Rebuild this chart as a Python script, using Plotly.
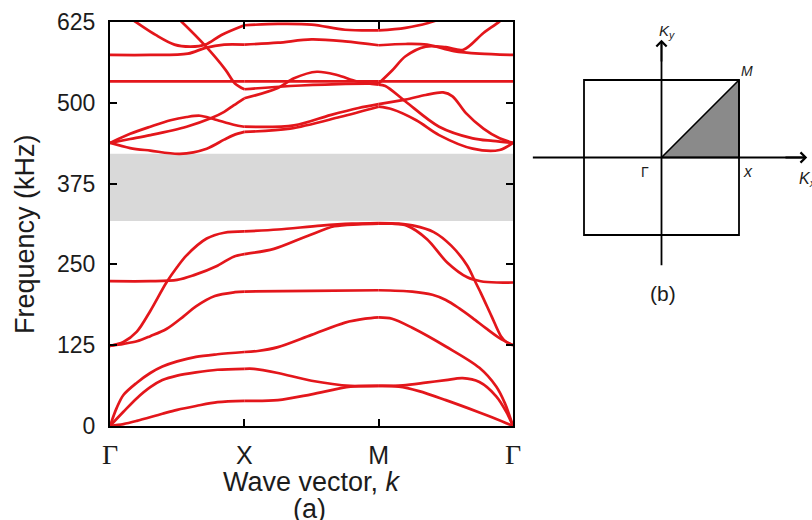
import plotly.graph_objects as go

W, H = 812, 520

# ---------------- data ----------------
# path coordinate: 0 = Γ, 1 = X, 2 = M, 3 = Γ ; frequency in kHz
HSP_POS = [0, 1, 2, 3]
HSP_LABELS = ["Γ", "X", "M", "Γ"]
FREQ_TICKS = [0, 125, 250, 375, 500, 625]
GAP_LOW, GAP_HIGH = 317, 421

band1_k = [0, 0.1, 0.2, 0.39, 0.5, 0.64, 0.8, 1.0, 1.25, 1.5, 1.79, 2.0, 2.15, 2.3, 2.5, 2.75, 2.875, 3.0]
band1_f = [0, 3, 8, 19, 25, 31, 37, 39, 40, 49, 61, 62, 61, 54, 40, 21, 11, 0]

band2_k = [0, 0.1, 0.2, 0.3, 0.39, 0.5, 0.64, 0.8, 1.0, 1.07, 1.25, 1.5, 1.79, 2.0, 2.18, 2.35, 2.5, 2.625, 2.75, 2.875, 2.95, 3.0]
band2_f = [0, 22, 43, 60, 71, 78, 83, 87, 88.5, 88.5, 82, 70, 62, 62, 63, 67, 71, 74, 68, 46, 22, 0]

band3_k = [0, 0.05, 0.1, 0.2, 0.3, 0.39, 0.5, 0.64, 0.8, 1.0, 1.1, 1.25, 1.5, 1.75, 1.9, 2.0, 2.1, 2.25, 2.5, 2.75, 2.875, 2.94, 3.0]
band3_f = [0, 28, 48, 67, 82, 92, 100, 107, 111, 114.5, 116, 122, 141, 160, 166, 168, 166, 152, 123, 90, 61, 35, 0]

band4_k = [0, 0.1, 0.2, 0.3, 0.42, 0.55, 0.64, 0.78, 0.93, 1.0, 1.5, 2.0, 2.25, 2.4, 2.5, 2.6, 2.7, 2.8, 2.9, 3.0]
band4_f = [124, 127, 131, 139, 150, 170, 185, 201, 207, 208, 209, 210, 208, 203, 195, 182, 167, 151, 136, 125]

band5_k = [0, 0.1, 0.2, 0.3, 0.42, 0.5, 0.57, 0.72, 0.85, 1.0, 1.25, 1.57, 1.8, 2.0, 2.15, 2.26, 2.41, 2.54, 2.66, 2.71, 2.76, 2.84, 2.91, 2.95, 3.0]
band5_f = [124, 130, 146, 178, 222, 246, 264, 290, 299, 301, 304, 310, 313, 314, 313, 310, 300, 279, 248, 227, 206, 170, 139, 130, 125]

band6_k = [0, 0.3, 0.5, 0.62, 0.8, 0.92, 1.0, 1.22, 1.47, 1.67, 1.85, 2.0, 2.1, 2.21, 2.36, 2.51, 2.66, 2.76, 2.88, 3.0]
band6_f = [224, 224, 226, 233, 248, 262, 266, 274, 294, 309, 312, 313, 313, 310, 289, 253, 230, 224, 222, 222]

band7_k = [0, 0.15, 0.3, 0.52, 0.72, 0.85, 0.92, 1.0, 1.34, 1.71, 2.0, 2.1, 2.28, 2.45, 2.7, 2.9, 3.0]
band7_f = [438, 430, 426, 421, 429, 443, 450, 455, 460, 478, 494, 490, 473, 450, 429, 427, 438]

band8_k = [0, 0.15, 0.3, 0.45, 0.57, 0.67, 0.77, 0.92, 1.0, 1.37, 1.64, 1.85, 2.0, 2.2, 2.35, 2.48, 2.55, 2.65, 2.78, 2.9, 3.0]
band8_f = [438, 452, 463, 473, 478, 480, 475, 466, 463, 465, 481, 492, 498, 505, 512, 516, 510, 484, 460, 445, 438]

band9_k = [0, 0.15, 0.3, 0.57, 0.75, 0.85, 0.92, 1.0, 1.24, 1.37, 1.54, 1.69, 1.84, 2.0, 2.05, 2.2, 2.45, 2.7, 2.85, 3.0]
band9_f = [438, 444, 450, 463, 476, 486, 496, 507, 522, 538, 548, 543, 533, 528, 526, 502, 463, 445, 441, 438]

band10_k = [0, 1.0, 2.0, 3.0]
band10_f = [533, 533, 533, 533]

band11_k = [0, 0.3, 0.58, 0.71, 0.85, 1.0, 1.25, 1.5, 1.75, 2.0, 2.2, 2.36, 2.56, 2.75, 3.0]
band11_f = [574, 574, 576, 585, 590, 590, 593, 598, 595, 589, 591, 590, 580, 576, 574]

band12_k = [0, 0.17, 0.34, 0.48, 0.6, 0.71, 0.83, 1.0, 1.25, 1.5, 1.75, 2.0, 2.2, 2.41, 2.6, 2.8, 3.0]
band12_f = [650, 628, 605, 590, 587, 590, 605, 620, 622, 621, 613, 612, 616, 626, 645, 670, 690]

band13_k = [0.3, 0.52, 0.71, 0.86, 0.93, 1.0, 1.34, 1.7, 2.0, 2.1, 2.2, 2.35, 2.5, 2.63, 2.78, 2.9, 3.0]
band13_f = [670, 628, 588, 551, 530, 521, 526, 529, 530, 550, 572, 587, 586, 582, 608, 626, 645]

BANDS = [
    (band1_k, band1_f), (band2_k, band2_f), (band3_k, band3_f), (band4_k, band4_f),
    (band5_k, band5_f), (band6_k, band6_f), (band7_k, band7_f), (band8_k, band8_f),
    (band9_k, band9_f), (band10_k, band10_f), (band11_k, band11_f), (band12_k, band12_f),
    (band13_k, band13_f),
]

# irreducible Brillouin zone (inset b), units of pi/a
IBZ_KX = [0, 1, 1, 0]
IBZ_KY = [0, 0, 1, 0]

# ---------------- style / layout ----------------
RED = "#e3161b"
TXT = "#1c1c1c"
SANS = "Liberation Sans, Arial, sans-serif"

PL, PR, PT, PB = 110, 513, 22, 426  # main plot area in pixels

fig = go.Figure()

for bk, bf in BANDS:
    for s0, s1 in [(0, 1), (1, 2), (2, 3)]:
        idx = [i for i, k in enumerate(bk) if s0 <= k <= s1]
        if len(idx) < 2:
            continue
        fig.add_trace(go.Scatter(
            x=[bk[i] for i in idx], y=[bf[i] for i in idx], mode="lines",
            line=dict(color=RED, width=2.7, shape="spline", smoothing=0.9),
            hoverinfo="skip", showlegend=False, xaxis="x", yaxis="y"))

# band gap
fig.add_shape(type="rect", xref="x", yref="y", x0=HSP_POS[0], x1=HSP_POS[-1],
              y0=GAP_LOW, y1=GAP_HIGH, fillcolor="#d9d9d9", line=dict(width=0), layer="below")

ticktext = []
for lab in HSP_LABELS:
    if lab == "Γ":
        ticktext.append('<span style="font-family:Liberation Serif, serif; font-size:28px">Γ</span>')
    else:
        ticktext.append(lab)

axis_common = dict(showline=True, linecolor="black", linewidth=2, mirror="ticks",
                   ticks="inside", ticklen=7, tickwidth=2, tickcolor="black",
                   showgrid=False, zeroline=False, fixedrange=True, automargin=False)

# inset placement (pixels): centre of zone and pixels per pi/a
CX, CY, S = 661.5, 157.5, 77.5
IX0, IY0, IY1 = 0.64, 0.30, 1.0
x2_range = [(IX0 * W - CX) / S, (W - CX) / S]
y2_range = [(CY - (1 - IY0) * H) / S, (CY - (1 - IY1) * H) / S]

fig.update_layout(
    template="none",
    width=W, height=H, autosize=False,
    margin=dict(l=0, r=0, t=0, b=0, pad=0),
    paper_bgcolor="white", plot_bgcolor="rgba(0,0,0,0)",
    showlegend=False,
    xaxis=dict(domain=[PL / W, PR / W], range=[HSP_POS[0], HSP_POS[-1]],
               tickvals=HSP_POS, ticktext=ticktext,
               tickfont=dict(family=SANS, size=25, color=TXT), ticklabelstandoff=6,
               **axis_common),
    yaxis=dict(domain=[(H - PB) / H, (H - PT) / H], range=[0, 625],
               tickvals=FREQ_TICKS, ticktext=[str(v) for v in FREQ_TICKS],
               tickfont=dict(family=SANS, size=23, color=TXT), ticklabelstandoff=8,
               **axis_common),
    xaxis2=dict(domain=[IX0, 1.0], range=x2_range, visible=False, fixedrange=True,
                anchor="y2", automargin=False),
    yaxis2=dict(domain=[IY0, IY1], range=y2_range, visible=False, fixedrange=True,
                anchor="x2", automargin=False),
)

# inset: irreducible zone
fig.add_trace(go.Scatter(x=IBZ_KX, y=IBZ_KY, mode="lines", fill="toself",
                         fillcolor="#8a8a8a", line=dict(color="black", width=1.6),
                         hoverinfo="skip", showlegend=False, xaxis="x2", yaxis="y2"))
# first Brillouin zone
fig.add_shape(type="rect", xref="x2", yref="y2", x0=-1, x1=1, y0=-1, y1=1,
              line=dict(color="black", width=1.8))
# k axes
KX_MIN, KX_MAX, KY_MIN, KY_MAX = -1.66, 1.88, -1.39, 1.52
fig.add_shape(type="line", xref="x2", yref="y2", x0=KX_MIN, x1=KX_MAX - 0.02, y0=0, y1=0,
              line=dict(color="black", width=1.8))
fig.add_shape(type="line", xref="x2", yref="y2", x0=0, x1=0, y0=KY_MIN, y1=KY_MAX - 0.02,
              line=dict(color="black", width=1.8))
for tx, ty, bx, by in [(KX_MAX, 0, KX_MAX - 0.3, 0), (0, KY_MAX, 0, KY_MAX - 0.3)]:
    fig.add_annotation(x=tx, y=ty, ax=bx, ay=by, xref="x2", yref="y2", axref="x2", ayref="y2",
                       text="", showarrow=True, arrowhead=4, arrowsize=1.1, arrowwidth=1.8,
                       arrowcolor="black", standoff=0, startstandoff=0)

inset_labels = [
    (0.07, 1.62, "<i>K<sub>y</sub></i>", 15, "center"),
    (1.10, 1.11, "<i>M</i>", 14, "center"),
    (-0.21, -0.19, "Γ", 14, "center"),
    (1.12, -0.18, "<i>x</i>", 16, "center"),
    (1.75, -0.29, "<i>K<sub>x</sub></i>", 16, "left"),
    (0.015, -1.75, "(b)", 21, "center"),
]
for lx, ly, lt, ls, la in inset_labels:
    fig.add_annotation(x=lx, y=ly, xref="x2", yref="y2", text=lt, showarrow=False,
                       xanchor=la, yanchor="middle",
                       font=dict(family=SANS, size=ls, color=TXT))

# axis titles and panel label
fig.add_annotation(x=25 / W, y=1 - 234 / H, xref="paper", yref="paper",
                   text="Frequency (kHz)", textangle=-90, showarrow=False,
                   xanchor="center", yanchor="middle",
                   font=dict(family=SANS, size=27, color=TXT))
fig.add_annotation(x=(PL + PR) / 2 / W, y=1 - 482 / H, xref="paper", yref="paper",
                   text="Wave vector, <i>k</i>", showarrow=False,
                   xanchor="center", yanchor="middle",
                   font=dict(family=SANS, size=27, color=TXT))
fig.add_annotation(x=309 / W, y=1 - 509 / H, xref="paper", yref="paper",
                   text="(a)", showarrow=False, xanchor="center", yanchor="middle",
                   font=dict(family=SANS, size=27, color=TXT))

fig.write_html("out.html")
